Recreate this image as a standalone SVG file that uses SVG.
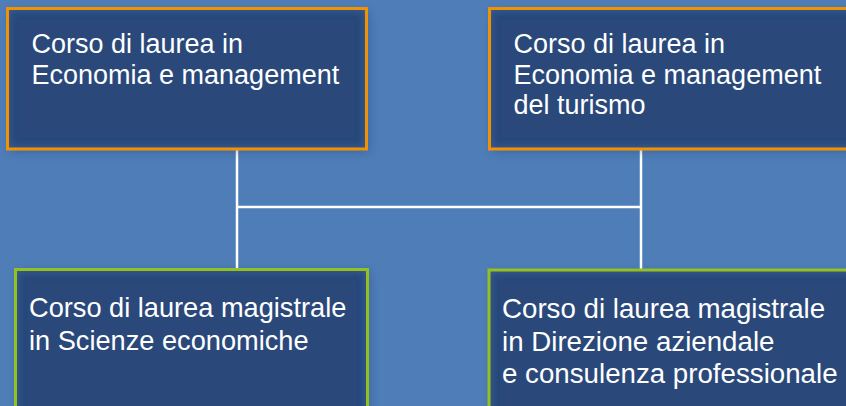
<svg xmlns="http://www.w3.org/2000/svg" width="846" height="406" viewBox="0 0 846 406">
  <defs>
    <filter id="inner" x="-5%" y="-10%" width="110%" height="120%">
      <feGaussianBlur in="SourceAlpha" stdDeviation="5" result="b"/>
      <feComposite in="SourceAlpha" in2="b" operator="arithmetic" k1="0" k2="1" k3="-1" k4="0" result="edge"/>
      <feFlood flood-color="#3e66a2"/>
      <feComposite in2="edge" operator="in" result="glow"/>
      <feMerge><feMergeNode in="SourceGraphic"/><feMergeNode in="glow"/></feMerge>
    </filter>
    <filter id="shadow" x="-10%" y="-20%" width="120%" height="140%">
      <feGaussianBlur stdDeviation="5"/>
    </filter>
  </defs>
  <style>
    .bg { fill: #4e7db8; }
    .fill { fill: #29487a; filter: url(#inner); }
    .sh { fill: #1f3a66; opacity: 0.35; filter: url(#shadow); }
    .orange { fill: none; stroke: #f39200; stroke-width: 3; }
    .green { fill: none; stroke: #95c11f; stroke-width: 3; }
    .label { font-family: "Liberation Sans", Arial, sans-serif; font-size: 27px; fill: #ffffff; }
    .conn { stroke: #ffffff; stroke-width: 2.5; fill: none; }
  </style>
  <rect class="bg" x="0" y="0" width="846" height="406"/>

  <g id="connectors">
    <line class="conn" x1="237" y1="150" x2="237" y2="268"/>
    <line class="conn" x1="641" y1="150" x2="641" y2="269"/>
    <line class="conn" x1="236" y1="207" x2="642" y2="207"/>
  </g>

  <g id="node-economia-management">
    <rect class="sh" x="10" y="12" width="359" height="140"/>
    <rect class="fill" x="7.5" y="8.5" width="359" height="140.5"/>
    <rect class="orange" x="7.5" y="8.5" width="359" height="140.5"/>
    <text class="label"><tspan x="31.5" y="53">Corso di laurea in</tspan><tspan x="31.5" y="83.5">Economia e management</tspan></text>
  </g>

  <g id="node-economia-turismo">
    <rect class="sh" x="492" y="12" width="380" height="140"/>
    <rect class="fill" x="489.5" y="8.5" width="380" height="140.5"/>
    <rect class="orange" x="489.5" y="8.5" width="380" height="140.5"/>
    <text class="label"><tspan x="513.5" y="53">Corso di laurea in</tspan><tspan x="513.5" y="83.5">Economia e management</tspan><tspan x="513.5" y="114">del turismo</tspan></text>
  </g>

  <g id="node-scienze-economiche">
    <rect class="sh" x="18" y="272" width="352" height="160"/>
    <rect class="fill" x="15.5" y="269.5" width="352" height="160"/>
    <rect class="green" x="15.5" y="269.5" width="352" height="160"/>
    <text class="label" style="font-size:27.2px"><tspan x="29" y="317">Corso di laurea magistrale</tspan><tspan x="29" y="349.5">in Scienze economiche</tspan></text>
  </g>

  <g id="node-direzione-aziendale">
    <rect class="sh" x="492" y="273" width="380" height="160"/>
    <rect class="fill" x="489" y="270" width="380" height="160"/>
    <rect class="green" x="489" y="270" width="380" height="160"/>
    <text class="label" style="font-size:27.7px"><tspan x="502" y="318">Corso di laurea magistrale</tspan><tspan x="502" y="350.5">in Direzione aziendale</tspan><tspan x="502" y="383">e consulenza professionale</tspan></text>
  </g>
</svg>
